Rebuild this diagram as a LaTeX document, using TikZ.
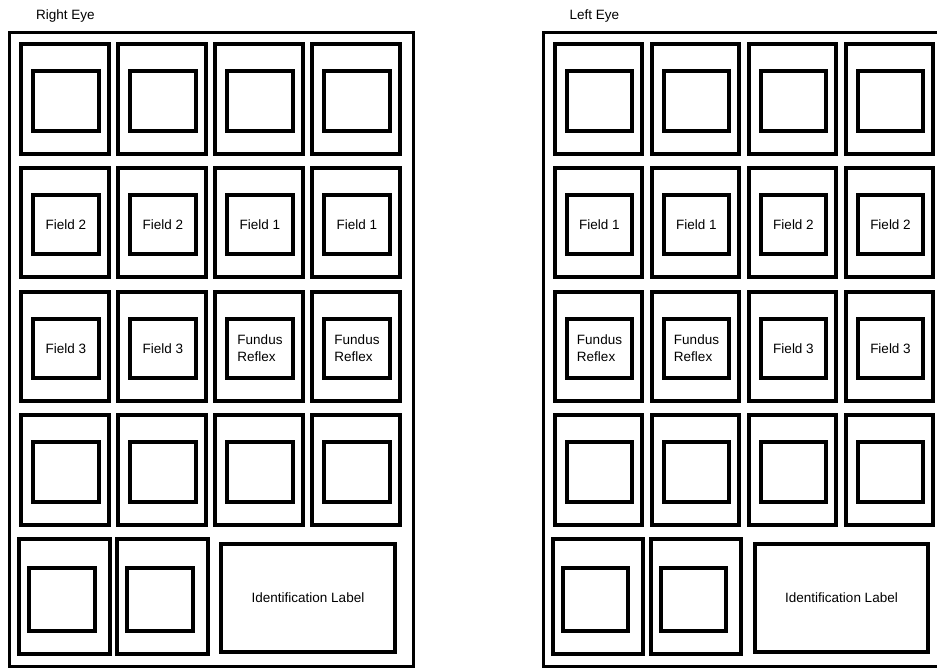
\documentclass[tikz,border=0pt]{standalone}
\usepackage{fontspec}
\setmainfont{Liberation Sans}

\tikzset{%
    cellbox/.style = {%
        draw,
        line width = 4pt,
        rectangle,
        inner sep = 0pt,
        outer sep = 0pt,
        anchor = north west,
        minimum width = 87.5pt,
        minimum height = 109.5pt
    },
    shotbox/.style = {%
        cellbox,
        minimum width = 65.5pt,
        minimum height = 59.5pt
    },
    framebox/.style = {%
        cellbox,
        line width = 3pt
    },
    shottext/.style = {%
        align = left,
        inner sep = 0pt,
        font = \fontsize{13.5}{16.5}\selectfont
    },
    eyetitle/.style = {%
        anchor = base west,
        inner sep = 0pt,
        font = \fontsize{13.5}{16.5}\selectfont
    }
}

\begin{document}
\begin{tikzpicture}[x = 1pt, y = -1pt]

        \useasboundingbox (0,0) rectangle (937,670);

        % Right eye: frame, four rows of four shots, last row with the label.
        \begin{scope}
            \node[eyetitle] (rtitle) at (36,19) {Right Eye};
            \node[framebox, minimum width = 404pt, minimum height = 634pt] (rframe) at (9.5,32.5) {};
            \foreach \r in {0,...,3} {
                \foreach \c in {0,...,3} {
                    \node[cellbox] (rcell\r\c) at ({21.25+97*\c},{44.25+123.7*\r}) {};
                    \node[shotbox] (rshot\r\c) at ([shift={(12,27)}]rcell\r\c.north west) {};
                }
            }
            \node[cellbox, minimum width = 90.5pt, minimum height = 114.5pt] (rcell40) at (19.25,539.25) {};
            \node[cellbox, minimum width = 90.5pt, minimum height = 114.5pt] (rcell41) at (117.25,539.25) {};
            \node[shotbox, minimum height = 62.5pt] (rshot40) at ([shift={(10,29)}]rcell40.north west) {};
            \node[shotbox, minimum height = 62.5pt] (rshot41) at ([shift={(10,29)}]rcell41.north west) {};
            \node[cellbox, minimum width = 173.5pt, minimum height = 107.5pt] (rid) at (221.25,544.25) {};
            \node[shottext] (ridtext) at (rid) {Identification Label};

            % Names of the fields.
            \foreach \c/\t in {0/Field 2, 1/Field 2, 2/Field 1, 3/Field 1}
                \node[shottext] (rtext1\c) at (rshot1\c) {\t};
            \foreach \c/\t in {0/Field 3, 1/Field 3, 2/{Fundus\\Reflex}, 3/{Fundus\\Reflex}}
                \node[shottext] (rtext2\c) at (rshot2\c) {\t};
        \end{scope}

        % Left eye: the same sheet, shifted to the right.
        \begin{scope}[xshift = 533.5pt]
            \node[eyetitle] (ltitle) at (36,19) {Left Eye};
            \node[framebox, minimum width = 404pt, minimum height = 634pt] (lframe) at (9.5,32.5) {};
            \foreach \r in {0,...,3} {
                \foreach \c in {0,...,3} {
                    \node[cellbox] (lcell\r\c) at ({21.25+97*\c},{44.25+123.7*\r}) {};
                    \node[shotbox] (lshot\r\c) at ([shift={(12,27)}]lcell\r\c.north west) {};
                }
            }
            \node[cellbox, minimum width = 90.5pt, minimum height = 114.5pt] (lcell40) at (19.25,539.25) {};
            \node[cellbox, minimum width = 90.5pt, minimum height = 114.5pt] (lcell41) at (117.25,539.25) {};
            \node[shotbox, minimum height = 62.5pt] (lshot40) at ([shift={(10,29)}]lcell40.north west) {};
            \node[shotbox, minimum height = 62.5pt] (lshot41) at ([shift={(10,29)}]lcell41.north west) {};
            \node[cellbox, minimum width = 173.5pt, minimum height = 107.5pt] (lid) at (221.25,544.25) {};
            \node[shottext] (lidtext) at (lid) {Identification Label};

            % Names of the fields.
            \foreach \c/\t in {0/Field 1, 1/Field 1, 2/Field 2, 3/Field 2}
                \node[shottext] (ltext1\c) at (lshot1\c) {\t};
            \foreach \c/\t in {0/{Fundus\\Reflex}, 1/{Fundus\\Reflex}, 2/Field 3, 3/Field 3}
                \node[shottext] (ltext2\c) at (lshot2\c) {\t};
        \end{scope}
    \end{tikzpicture}
\end{document}
